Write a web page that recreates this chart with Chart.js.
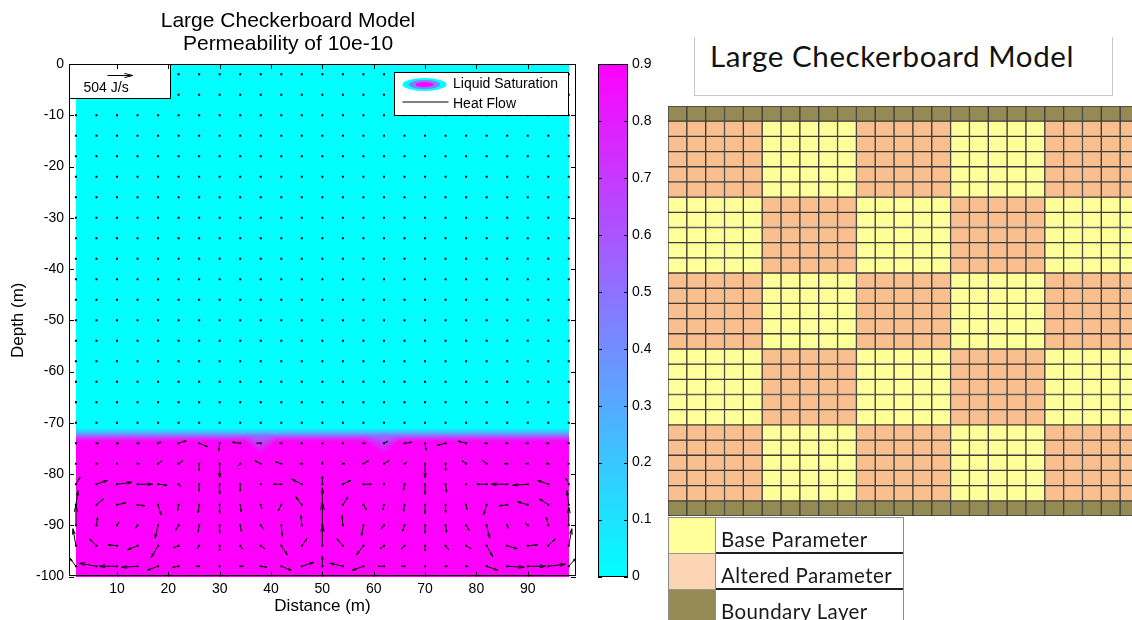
<!DOCTYPE html>
<html>
<head>
<meta charset="utf-8">
<title>Large Checkerboard Model</title>
<script src="https://cdn.jsdelivr.net/npm/chart.js@4.4.1/dist/chart.umd.min.js"></script>
<style>
  html, body { margin: 0; padding: 0; background: #fff; }
  body { position: relative; width: 1132px; height: 620px; overflow: hidden; }
  canvas { position: absolute; top: 0; }
  #fieldChart { left: 0; }
  #colorbarChart { left: 590px; }
  #gridChart { left: 660px; }
  .model-title {
    position: absolute; left: 694px; top: 37px; width: 417px; height: 58px;
    border: 1.5px solid #c8c8c8; border-top: none;
  }
  .model-title span {
    position: absolute; left: 15px; top: 1px; line-height: 40px; letter-spacing: 0.6px;
    font: 29.5px Lato, "Open Sans", sans-serif; color: #111; white-space: nowrap;
  }
  .key {
    position: absolute; left: 668px; top: 517px; width: 236px;
    border: 1.5px solid #8c8c8c; border-bottom: none; box-sizing: border-box;
    font: 20.5px Lato, "Open Sans", sans-serif; letter-spacing: 0.4px; color: #1a1a1a;
  }
  .key .row { display: flex; height: 36px; box-sizing: border-box; }
  .key .swatch { width: 46px; border-right: 1.5px solid #8c8c8c; border-bottom: 1px solid #9a9a9a; }
  .key .label { flex: 1; padding: 3px 0 0 5px; line-height: 36px; border-bottom: 2px solid #1e1e1e; box-sizing: border-box; white-space: nowrap; }
</style>
</head>
<body>
<canvas id="fieldChart" width="590" height="620"></canvas>
<canvas id="colorbarChart" width="70" height="620"></canvas>
<div class="model-title"><span>Large Checkerboard Model</span></div>
<canvas id="gridChart" width="480" height="620"></canvas>
<div class="key" id="key"></div>

<script>
// ---- quiver grid (m) ----
const gridX = [2, 6, 10, 14, 18, 22, 26, 30, 34, 38, 42, 46, 50, 54, 58, 62, 66, 70, 74, 78, 82, 86, 90, 94, 98];
const gridDepth = [-2, -6, -10, -14, -18, -22, -26, -30, -34, -38, -42, -46, -50, -54, -58, -62, -66, -70, -74, -78, -82, -86, -90, -94, -98];

// heat flow (J/s) for the rows below the water table, every other row is still
const flowDepth = [-74, -78, -82, -86, -90, -94, -98];
const heatFlowX = [
  [0, 40, 40, 40, 60, 150, 170, -20, -160, -80, -40, -20, 0, 20, 40, 80, 140, 20, -160, -160, -40, -40, -40, -40, -20],
  [0, 20, 20, 40, 80, 80, 0, 0, -40, -120, -120, -40, 0, 40, 100, 100, 40, 0, 0, -80, -80, -60, -40, -40, -20],
  [80, 220, 300, 300, 180, 40, 0, 0, 0, 0, -160, -200, 0, 160, 160, 0, -20, 0, 20, 0, -200, -320, -300, -220, -60],
  [40, 140, 180, 140, 60, -20, -20, 0, 20, 20, -60, -120, 0, 100, 60, -20, -20, 0, 0, 20, -60, -160, -200, -180, -40],
  [0, 20, 40, -40, -60, -60, -20, 0, 20, 60, 20, -20, 0, -20, -40, -60, -40, 0, 20, 60, 60, 20, -40, -40, 0],
  [-60, -140, -180, -200, -140, -100, -40, 0, 40, 80, 120, 100, 0, -120, -140, -80, -60, 0, 60, 100, 120, 200, 200, 140, 60],
  [-120, -340, -360, -320, -220, -120, -60, 0, 60, 120, 200, 240, 0, -260, -220, -120, -60, 0, 40, 40, 220, 340, 360, 340, 140]
];
const heatFlowY = [
  [0, 0, 0, 0, 20, 50, -70, -150, 20, 0, 0, 0, 0, 0, 0, 40, 20, -140, -40, 40, 0, 0, 0, 0, 0],
  [0, 0, 0, 0, 60, 60, -140, -280, -40, 60, 40, 0, 40, 0, 60, 60, 20, -280, -140, 60, 60, 0, 0, 0, 0],
  [140, 80, 40, 0, -20, -40, -140, -200, -140, 0, 0, 100, 160, 80, 0, 0, -120, -200, -160, 0, 0, 0, -20, 80, 120],
  [280, 120, 40, -20, -200, -120, -160, -180, -140, -80, -120, 160, 340, 160, -100, -100, -140, -180, -160, -100, -200, -20, 60, 120, 280],
  [400, 160, 60, -60, -260, -100, -140, -160, -120, -80, -220, 200, 460, 200, -220, -80, -120, -160, -140, -100, -260, -60, 40, 160, 360],
  [340, 140, 20, -80, -240, -40, -60, -100, -60, -60, -180, 140, 420, 140, -180, -60, -60, -100, -80, -60, -220, -60, 20, 140, 340],
  [160, 60, 0, -20, -80, -20, 0, 0, 0, -20, -80, 80, 200, 60, -80, 0, 0, 0, 0, 0, -80, -20, 0, 40, 160]
];
const referenceFlow = 504; // J/s
const metresPerFlow = 0.00975; // arrow length in m per J/s

// ---- liquid saturation profile ----
const saturationDepth = [-100, -73.6, -73, -72.5, -72, -71, 0];
const saturationLevel = [0.9, 0.9, 0.72, 0.5, 0.28, 0, 0];
// where the wet zone front sags further down
const interfaceX = [2, 35, 38, 41, 58.5, 62, 65, 98];
const interfaceDip = [0, 0, -2.8, 0, 0, -2.8, 0, 0];
const fieldX = [2, 98];
const fieldDepth = [0, -100];

// ---- axis ticks ----
const distanceTicks = [10, 20, 30, 40, 50, 60, 70, 80, 90];
const depthTicks = [0, -10, -20, -30, -40, -50, -60, -70, -80, -90, -100];
const saturationTicks = [0, 0.1, 0.2, 0.3, 0.4, 0.5, 0.6, 0.7, 0.8, 0.9];

// ---- checkerboard model ----
const blockPattern = [
  ['altered', 'base', 'altered', 'base', 'altered'],
  ['base', 'altered', 'base', 'altered', 'base'],
  ['altered', 'base', 'altered', 'base', 'altered'],
  ['base', 'altered', 'base', 'altered', 'base'],
  ['altered', 'base', 'altered', 'base', 'altered']
];
const cellsPerBlock = 5;
const keyNames = ['Base Parameter', 'Altered Parameter', 'Boundary Layer'];
const keyMaterials = ['base', 'altered', 'boundary'];

const materialColor = { base: '#ffff99', altered: '#f9bf8f', boundary: '#948a54' };
const keyColor = { base: '#ffff99', altered: '#fcd5b4', boundary: '#948a54' };

const matlabFont = '"Liberation Sans", Arial, Helvetica, sans-serif';
Chart.defaults.font.family = matlabFont;
Chart.defaults.color = '#000';

function interp(xs, ys, v) {
  if (v <= xs[0]) return ys[0];
  for (let i = 1; i < xs.length; i++) {
    if (v <= xs[i]) {
      const f = (v - xs[i - 1]) / (xs[i] - xs[i - 1]);
      return ys[i - 1] + f * (ys[i] - ys[i - 1]);
    }
  }
  return ys[ys.length - 1];
}

// MATLAB "cool" map, 0 -> cyan, 0.9 -> magenta
function coolColor(s) {
  const t = Math.min(Math.max(s / 0.9, 0), 1);
  return [Math.round(255 * t), Math.round(255 * (1 - t)), 255];
}

// only the wet half of the front is dragged down by the dips
function saturationAt(x, depth) {
  const top = saturationDepth[3], bottom = saturationDepth[1];
  const dip = interp(interfaceX, interfaceDip, x);
  let d = depth;
  if (depth <= top && depth >= bottom + dip) {
    d = top + (depth - top) * (top - bottom) / (top - bottom - dip);
  } else if (depth < bottom + dip) {
    d = depth - dip;
  }
  return interp(saturationDepth, saturationLevel, d);
}

const flowPoints = [];
gridDepth.forEach(depth => {
  const row = flowDepth.indexOf(depth);
  gridX.forEach((x, i) => {
    flowPoints.push({
      x, y: depth,
      u: row < 0 ? 0 : heatFlowX[row][i],
      v: row < 0 ? 0 : heatFlowY[row][i]
    });
  });
});

function drawArrow(ctx, x0, y0, x1, y1) {
  const dx = x1 - x0, dy = y1 - y0;
  const a = 0.33, b = 0.25;
  ctx.beginPath();
  ctx.moveTo(x0, y0);
  ctx.lineTo(x1, y1);
  ctx.moveTo(x1 - a * (dx + b * dy), y1 - a * (dy - b * dx));
  ctx.lineTo(x1, y1);
  ctx.lineTo(x1 - a * (dx - b * dy), y1 - a * (dy + b * dx));
  ctx.stroke();
}

// inward MATLAB style ticks + box around the plot area
function drawFrame(ctx, area, xScale, yScale, len) {
  ctx.save();
  ctx.strokeStyle = '#000';
  ctx.lineWidth = 1;
  ctx.strokeRect(Math.round(area.left) + 0.5, Math.round(area.top) + 0.5,
    Math.round(area.right - area.left) - 1, Math.round(area.bottom - area.top) - 1);
  ctx.beginPath();
  if (xScale) {
    xScale.ticks.forEach(t => {
      const px = Math.round(xScale.getPixelForValue(t.value)) + 0.5;
      ctx.moveTo(px, area.bottom); ctx.lineTo(px, area.bottom - len);
      ctx.moveTo(px, area.top); ctx.lineTo(px, area.top + len);
    });
  }
  yScale.ticks.forEach(t => {
    const py = Math.round(yScale.getPixelForValue(t.value)) + 0.5;
    ctx.moveTo(area.left, py); ctx.lineTo(area.left + len, py);
    ctx.moveTo(area.right, py); ctx.lineTo(area.right - len, py);
  });
  ctx.stroke();
  ctx.restore();
}

const saturationField = {
  id: 'saturationField',
  beforeDatasetsDraw(chart) {
    const { ctx, scales: { x, y } } = chart;
    const left = Math.round(x.getPixelForValue(fieldX[0]));
    const right = Math.round(x.getPixelForValue(fieldX[1]));
    const top = Math.round(y.getPixelForValue(fieldDepth[0]));
    const bottom = Math.round(y.getPixelForValue(fieldDepth[1]));
    const w = right - left, h = bottom - top;
    const off = document.createElement('canvas');
    off.width = w; off.height = h;
    const octx = off.getContext('2d');
    const img = octx.createImageData(w, h);
    for (let i = 0; i < w; i++) {
      const xv = x.getValueForPixel(left + i + 0.5);
      for (let j = 0; j < h; j++) {
        const yv = y.getValueForPixel(top + j + 0.5);
        const [r, g, b] = coolColor(saturationAt(xv, yv));
        const k = (j * w + i) * 4;
        img.data[k] = r; img.data[k + 1] = g; img.data[k + 2] = b; img.data[k + 3] = 255;
      }
    }
    octx.putImageData(img, 0, 0);
    ctx.drawImage(off, left, top);
  }
};

const quiver = {
  id: 'quiver',
  afterDatasetsDraw(chart) {
    const { ctx, chartArea, scales: { x, y } } = chart;
    ctx.save();
    ctx.beginPath();
    ctx.rect(chartArea.left, chartArea.top, chartArea.width, chartArea.height);
    ctx.clip();
    ctx.strokeStyle = '#000';
    ctx.lineWidth = 1;
    chart.data.datasets[0].data.forEach(p => {
      if (!p.u && !p.v) return;
      drawArrow(ctx,
        x.getPixelForValue(p.x), y.getPixelForValue(p.y),
        x.getPixelForValue(p.x + p.u * metresPerFlow), y.getPixelForValue(p.y + p.v * metresPerFlow));
    });
    ctx.restore();
  }
};

// reference arrow box (top left) and legend (top right)
const fieldAnnotations = {
  id: 'fieldAnnotations',
  afterDraw(chart) {
    const { ctx, chartArea, scales: { x } } = chart;
    ctx.save();
    ctx.lineWidth = 1;
    ctx.strokeStyle = '#000';

    const bx = Math.round(chartArea.left) + 0.5, by = Math.round(chartArea.top) + 0.5;
    ctx.fillStyle = '#fff';
    ctx.fillRect(bx, by, 101, 34);
    ctx.strokeRect(bx, by, 101, 34);
    const ax = bx + 38, ay = by + 11;
    const arrowLen = x.getPixelForValue(x.min + referenceFlow * metresPerFlow) - x.getPixelForValue(x.min);
    drawArrow(ctx, ax, ay, ax + arrowLen, ay);
    ctx.fillStyle = '#000';
    ctx.font = `14px ${matlabFont}`;
    ctx.textBaseline = 'middle';
    ctx.fillText(`${referenceFlow} J/s`, bx + 14, by + 23.5);

    const lx = 394.5, ly = 72.5, lw = 174, lh = 43;
    ctx.fillStyle = '#fff';
    ctx.fillRect(lx, ly, lw, lh);
    ctx.strokeRect(lx, ly, lw, lh);
    const cx = lx + 30, cy = ly + 12;
    [[22, 6.5, 0], [15.5, 4.5, 0.45], [9, 2.6, 0.9]].forEach(([rx, ry, s]) => {
      const [r, g, b] = coolColor(s);
      ctx.fillStyle = `rgb(${r},${g},${b})`;
      ctx.beginPath();
      ctx.ellipse(cx, cy, rx, ry, 0, 0, Math.PI * 2);
      ctx.fill();
    });
    ctx.beginPath();
    ctx.moveTo(lx + 8, ly + 29.5);
    ctx.lineTo(lx + 54, ly + 29.5);
    ctx.stroke();
    ctx.fillStyle = '#000';
    ctx.fillText('Liquid Saturation', lx + 58.5, ly + 12);
    ctx.fillText('Heat Flow', lx + 58.5, ly + 32);
    ctx.restore();

    drawFrame(ctx, chartArea, chart.scales.x, chart.scales.y, 5);
  }
};

new Chart(document.getElementById('fieldChart'), {
  type: 'scatter',
  data: {
    datasets: [{
      label: 'Heat Flow',
      data: flowPoints,
      pointStyle: 'rect',
      pointRadius: 1.42,
      pointBackgroundColor: '#000',
      pointBorderWidth: 0
    }]
  },
  options: {
    responsive: false,
    animation: false,
    events: [],
    layout: { padding: { left: 0, right: 14, top: 0, bottom: 0 } },
    plugins: {
      legend: { display: false },
      tooltip: { enabled: false },
      title: {
        display: true,
        text: ['Large Checkerboard Model', 'Permeability of 10e-10'],
        color: '#000',
        font: { size: 21, weight: 'normal', lineHeight: 1.12 },
        padding: { top: 9, bottom: 8 }
      }
    },
    scales: {
      x: {
        type: 'linear',
        min: 0.65,
        max: 99.4,
        afterBuildTicks: scale => { scale.ticks = distanceTicks.map(value => ({ value })); },
        afterFit: scale => { scale.height = 43.5; },
        grid: { display: false, drawTicks: false },
        border: { display: false },
        ticks: { font: { size: 14 }, color: '#000', padding: 4, maxRotation: 0 },
        title: { display: true, text: 'Distance (m)', color: '#000', font: { size: 17 }, padding: { top: 0, bottom: 3 } }
      },
      y: {
        type: 'linear',
        min: -100,
        max: 0,
        afterBuildTicks: scale => { scale.ticks = depthTicks.map(value => ({ value })); },
        afterFit: scale => { scale.width = 69; },
        grid: { display: false, drawTicks: false },
        border: { display: false },
        ticks: { font: { size: 14 }, color: '#000', padding: 5 },
        title: { display: true, text: 'Depth (m)', color: '#000', font: { size: 17 }, padding: { top: 8, bottom: 0 } }
      }
    }
  },
  plugins: [saturationField, quiver, fieldAnnotations]
});

// ---- colour bar ----
function coolGradient(chart) {
  const { chartArea, scales } = chart;
  if (!chartArea) return 'cyan';
  const y = scales.y;
  const g = chart.ctx.createLinearGradient(0, y.getPixelForValue(saturationTicks[0]), 0, y.getPixelForValue(saturationTicks[saturationTicks.length - 1]));
  g.addColorStop(0, 'rgb(0,255,255)');
  g.addColorStop(1, 'rgb(255,0,255)');
  return g;
}

new Chart(document.getElementById('colorbarChart'), {
  type: 'bar',
  data: {
    labels: ['Liquid Saturation'],
    datasets: [{
      data: [[saturationTicks[0], saturationTicks[saturationTicks.length - 1]]],
      backgroundColor: ctx => coolGradient(ctx.chart),
      borderWidth: 0,
      barPercentage: 1,
      categoryPercentage: 1
    }]
  },
  options: {
    responsive: false,
    animation: false,
    events: [],
    layout: { padding: { left: 8, right: 0, top: 64, bottom: 43.5 } },
    plugins: { legend: { display: false }, tooltip: { enabled: false } },
    scales: {
      x: { display: false },
      y: {
        position: 'right',
        min: saturationTicks[0],
        max: saturationTicks[saturationTicks.length - 1],
        afterBuildTicks: scale => { scale.ticks = saturationTicks.map(value => ({ value })); },
        afterFit: scale => { scale.width = 32; },
        grid: { display: false, drawTicks: false },
        border: { display: false },
        ticks: { font: { size: 14 }, color: '#000', padding: 4, callback: v => String(v) }
      }
    }
  },
  plugins: [{
    id: 'colorbarFrame',
    afterDraw(chart) { drawFrame(chart.ctx, chart.chartArea, null, chart.scales.y, 4); }
  }]
});

// ---- checkerboard model grid ----
const gridRows = ['boundary'];
blockPattern.forEach(blockRow => {
  for (let k = 0; k < cellsPerBlock; k++) gridRows.push(blockRow);
});
gridRows.push('boundary');
const columnCount = blockPattern[0].length * cellsPerBlock;

new Chart(document.getElementById('gridChart'), {
  type: 'bar',
  data: {
    labels: Array.from({ length: columnCount }, (_, c) => `Column ${c + 1}`),
    datasets: gridRows.map((row, r) => ({
      label: `Row ${r + 1}`,
      data: Array(columnCount).fill(1),
      backgroundColor: Array.from({ length: columnCount }, (_, c) =>
        materialColor[row === 'boundary' ? 'boundary' : row[Math.floor(c / cellsPerBlock)]]),
      borderColor: '#3d3d3d',
      borderWidth: 1,
      borderSkipped: false,
      barPercentage: 1,
      categoryPercentage: 1
    }))
  },
  options: {
    responsive: false,
    animation: false,
    events: [],
    layout: { padding: { left: 8, right: 1, top: 106, bottom: 104 } },
    plugins: { legend: { display: false }, tooltip: { enabled: false } },
    scales: {
      x: { stacked: true, display: false },
      y: { stacked: true, display: false, reverse: true, min: 0, max: gridRows.length }
    }
  }
});

// key below the grid
document.getElementById('key').innerHTML = keyNames.map((name, i) => `
  <div class="row">
    <div class="swatch" style="background:${keyColor[keyMaterials[i]]}"></div>
    <div class="label">${name}</div>
  </div>`).join('');
</script>
</body>
</html>
